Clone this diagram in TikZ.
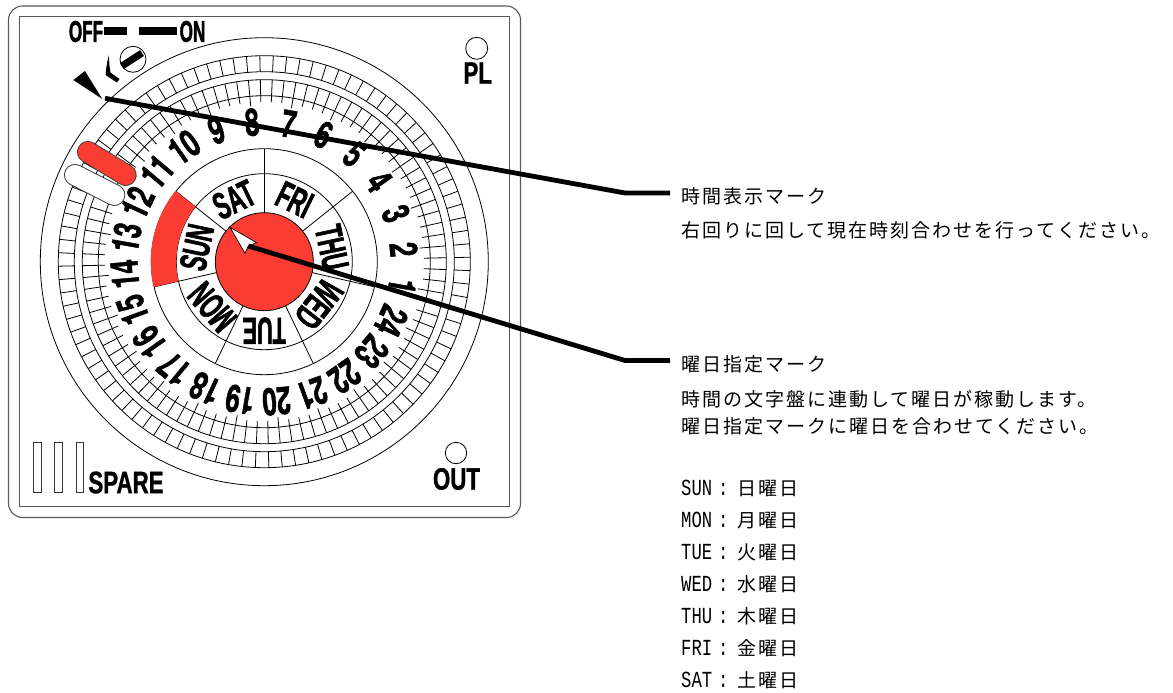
\documentclass[tikz,border=0pt]{standalone}
\usepackage{fontspec}
\setmainfont{Liberation Sans}
\newfontfamily\numf[FakeStretch=.68,FakeBold=1.2]{TeX Gyre Heros}
\newfontfamily\letf[FakeStretch=.57,FakeBold=1.4]{Liberation Sans}
\newfontfamily\panf[FakeStretch=.72,FakeBold=1]{Liberation Sans}
\newfontfamily\jpf[LetterSpace=10.5]{Noto Sans CJK JP}
\newfontfamily\latf[FakeStretch=.75]{Liberation Mono}
\definecolor{dialred}{HTML}{FA3C32}
\definecolor{framegray}{gray}{0.35}
\tikzset{
  thinline/.style={line width=0.8pt,black},
  numlabel/.style={inner sep=0pt,font=\fontsize{38}{38}\numf\bfseries},
  daylabel/.style={inner sep=0pt,font=\fontsize{38}{38}\letf\bfseries},
  switchlabel/.style={inner sep=0pt,font=\fontsize{30}{30}\letf\bfseries},
  panellabel/.style={inner sep=0pt,font=\fontsize{31}{31}\panf\bfseries},
  leader/.style={line width=4.8pt,black,line join=miter},
  note/.style={anchor=west,inner sep=0pt,text height=14pt,text depth=4pt,font=\fontsize{19}{20}\jpf},
  pilledge/.style={line width=22pt,line cap=round,black!75},
  led/.style={line width=0.8pt,draw=black,fill=white},
  slot/.style={line width=0.8pt,draw=black!80},
}
\newcommand{\dayline}[2]{\makebox[37pt][l]{\fontsize{23}{23}\latf #1}\makebox[19pt][l]{\fontsize{23}{23}\latf :}#2曜日}
\begin{document}
\begin{tikzpicture}[x=1pt,y=-1pt]
\path[use as bounding box,fill=white] (0,0) rectangle (1173,693);
% frame
\draw[line width=1.1pt,framegray,rounded corners=14pt] (8.5,6) rectangle (520.5,517.5);
\draw[line width=1pt,framegray] (19.5,16.5) rectangle (509.5,506.5);
% dial
\begin{scope}[shift={(264.3,261.7)},y=1pt]
  \foreach \r in {224,206,190,182,166,113,88} \draw[thinline] (0,0) circle[radius=\r];
  \foreach \k in {0,...,95} {
    \pgfmathsetmacro\a{5+3.75*\k}
    \draw[thinline] (\a:190) -- (\a:206);
    \draw[thinline] (\a:166) -- (\a:182);
    \pgfmathsetmacro\rem{int(mod(\k,4))}
    \ifnum\rem=0 \draw[thinline] (\a:156) -- (\a:166);
    \else \draw[thinline] (\a:159.5) -- (\a:166); \fi
  }
  \foreach \k in {0,...,6} {
    \pgfmathsetmacro\a{90+360/7*\k}
    \draw[thinline] (\a:49) -- (\a:113);
  }
  \fill[dialred] (141.43:88) arc[start angle=141.43,end angle=192.86,radius=88]
     -- (192.86:113.5) arc[start angle=192.86,end angle=141.43,radius=113.5] -- cycle;
  \draw[thinline,fill=dialred] (0,0) circle[radius=49];
  \foreach \h/\a in {1/350,2/5,3/20,4/35,5/50,6/65,7/80,8/95,9/110,10/125,11/140,12/155,13/170,14/185,15/200,16/215,17/230,18/245,19/260,20/275,21/290,22/305,23/320,24/335} {
    \pgfmathsetmacro\rt{\a-90}
    \node[numlabel,rotate=\rt] (h\h) at (\a:140) {\h};
  }
  \foreach \d/\a in {SAT/116,FRI/64,THU/12,WED/-38,TUE/-90,MON/-139,SUN/168} {
    \pgfmathsetmacro\rt{\a-90}
    \node[daylabel,rotate=\rt] (d\d) at (\a:69) {\d};
  }
\end{scope}
% pointer
\draw[line width=0.7pt,fill=white] (230,227.3) -- (256.7,242.7) -- (248.3,246) -- (245,253.3) -- cycle;
% pills
\draw[pilledge] (75,175) -- (114.3,195);
\draw[line width=20pt,line cap=round,white] (75,175) -- (114.3,195);
\draw[pilledge] (88,152) -- (125.7,175);
\draw[line width=20pt,line cap=round,dialred] (88,152) -- (125.7,175);
% switch
\node[switchlabel] (off) at (86,31.5) {OFF};
\node[switchlabel] (on) at (192.5,31.5) {ON};
\fill (104,27) rectangle (127,35);
\fill (139,27) rectangle (177,35);
\draw[led] (133,59.3) circle[radius=13];
\draw[line width=7pt] (122,66) -- (142,53);
\fill (108.8,55.5) -- (107.2,62) -- (106,70) -- (105.5,75) -- (117,82.5) -- (119.5,79) -- (110.5,72.5) -- (109.5,66) -- cycle;
\fill (73.3,80) -- (85,71) -- (102.3,99) -- cycle;
% lamps
\draw[led] (476.7,48.3) circle[radius=11];
\node[panellabel] (pl) at (477.7,73) {PL};
\draw[led] (456,453) circle[radius=10.7];
\node[panellabel] (out) at (456.5,479) {OUT};
\foreach \x in {33.3,54.3,76} \draw[slot] (\x,442.7) rectangle ++(7.7,50);
\node[panellabel] (spare) at (126,482.5) {SPARE};
% notes
\node[note] (n1) at (681,198) {時間表示マーク};
\node[note] (n1b) at (681,232.5) {右回りに回して現在時刻合わせを行ってください。};
\node[note] (n2) at (681,366) {曜日指定マーク};
\node[note] (n2b) at (681,401) {時間の文字盤に連動して曜日が稼動します。};
\node[note] (n2c) at (681,428) {曜日指定マークに曜日を合わせてください。};
\node[note] (sun) at (681,490) {\dayline{SUN}{日}};
\node[note] (mon) at (681,522) {\dayline{MON}{月}};
\node[note] (tue) at (681,554) {\dayline{TUE}{火}};
\node[note] (wed) at (681,586) {\dayline{WED}{水}};
\node[note] (thu) at (681,618) {\dayline{THU}{木}};
\node[note] (fri) at (681,650) {\dayline{FRI}{金}};
\node[note] (sat) at (681,682) {\dayline{SAT}{土}};
% leaders
\coordinate (m1) at (105,98.3);
\coordinate (k1) at (625,193);
\coordinate (e1) at (670,193);
\coordinate (m2) at (248.3,246);
\coordinate (k2) at (625,360.5);
\coordinate (e2) at (670,360.5);
\draw[leader] (m1) -- (k1) -- (e1);
\draw[leader] (m2) -- (k2) -- (e2);
\end{tikzpicture}
\end{document}
